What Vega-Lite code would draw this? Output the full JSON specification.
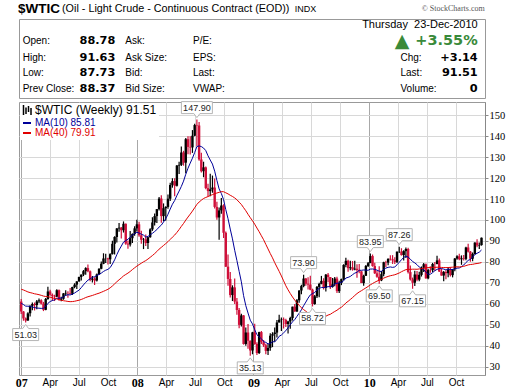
{
"$schema": "https://vega.github.io/schema/vega-lite/v6.json",
"background": "white",
"padding": {"left": 10, "top": 1, "right": 5, "bottom": 0},
"spacing": 0,
"resolve": {"scale": {"color": "independent"}, "legend": {"color": "independent"}},
"config": {
  "view": {"stroke": "#999999", "strokeWidth": 1},
  "font": "Liberation Sans",
  "axisY": {"labelFont": "Liberation Sans Narrow", "labelFontSize": 10.5, "labelColor": "black", "tickSize": 3, "tickColor": "#888888", "domainColor": "#888888", "gridColor": "#d8d8d8", "labelPadding": 1},
  "axisX": {"labelColor": "black"}
},
"datasets": {
  "header": [
    {"text":"$WTIC","col":0,"row":-1,"kind":"symbol"},
    {"text":"(Oil - Light Crude - Continuous Contract (EOD))","col":2,"row":-1,"kind":"name"},
    {"text":"INDX","col":6,"row":-1,"kind":"exchange"},
    {"text":"© StockCharts.com","col":10,"row":-1,"kind":"credit"},
    {"text":"Thursday\u00a0 23-Dec-2010","col":9,"row":0,"kind":"date"},
    {"text":"Open:","col":1,"row":1,"kind":"label"},
    {"text":"88.78","col":3,"row":1,"kind":"value"},
    {"text":"Ask:","col":4,"row":1,"kind":"label"},
    {"text":"P/E:","col":5,"row":1,"kind":"label"},
    {"text":"▲","col":7,"row":1,"kind":"arrow"},
    {"text":"+3.55%","col":9,"row":1,"kind":"change"},
    {"text":"High:","col":1,"row":2,"kind":"label"},
    {"text":"91.63","col":3,"row":2,"kind":"value"},
    {"text":"Ask Size:","col":4,"row":2,"kind":"label"},
    {"text":"EPS:","col":5,"row":2,"kind":"label"},
    {"text":"Chg:","col":8,"row":2,"kind":"label"},
    {"text":"+3.14","col":9,"row":2,"kind":"value"},
    {"text":"Low:","col":1,"row":3,"kind":"label"},
    {"text":"87.73","col":3,"row":3,"kind":"value"},
    {"text":"Bid:","col":4,"row":3,"kind":"label"},
    {"text":"Last:","col":5,"row":3,"kind":"label"},
    {"text":"Last:","col":8,"row":3,"kind":"label"},
    {"text":"91.51","col":9,"row":3,"kind":"value"},
    {"text":"Prev Close:","col":1,"row":4,"kind":"label"},
    {"text":"88.37","col":3,"row":4,"kind":"value"},
    {"text":"Bid Size:","col":4,"row":4,"kind":"label"},
    {"text":"VWAP:","col":5,"row":4,"kind":"label"},
    {"text":"Volume:","col":8,"row":4,"kind":"label"},
    {"text":"0","col":9,"row":4,"kind":"value"}
  ],
  "swings": [
    {"date":"2007-01-15","price":51.03,"side":"low"},
    {"date":"2008-07-07","price":147.90,"side":"high"},
    {"date":"2008-12-22","price":35.13,"side":"low"},
    {"date":"2009-06-08","price":73.90,"side":"high"},
    {"date":"2009-07-06","price":58.72,"side":"low"},
    {"date":"2010-01-04","price":83.95,"side":"high"},
    {"date":"2010-02-01","price":69.50,"side":"low"},
    {"date":"2010-04-05","price":87.26,"side":"high"},
    {"date":"2010-05-17","price":67.15,"side":"low"}
  ],
  "prices": [
    {"date":"2006-03-27","close":66.63},
    {"date":"2006-04-03","close":67.39},
    {"date":"2006-04-10","close":69.32},
    {"date":"2006-04-17","close":75.17},
    {"date":"2006-04-24","close":71.88},
    {"date":"2006-05-01","close":70.19},
    {"date":"2006-05-08","close":72.04},
    {"date":"2006-05-15","close":68.53},
    {"date":"2006-05-22","close":71.37},
    {"date":"2006-05-29","close":72.33},
    {"date":"2006-06-05","close":71.14},
    {"date":"2006-06-12","close":69.89},
    {"date":"2006-06-19","close":70.87},
    {"date":"2006-06-26","close":73.93},
    {"date":"2006-07-03","close":74.09},
    {"date":"2006-07-10","close":77.03},
    {"date":"2006-07-17","close":74.43},
    {"date":"2006-07-24","close":74.54},
    {"date":"2006-07-31","close":74.76},
    {"date":"2006-08-07","close":74.35},
    {"date":"2006-08-14","close":71.14},
    {"date":"2006-08-21","close":72.51},
    {"date":"2006-08-28","close":69.20},
    {"date":"2006-09-04","close":66.25},
    {"date":"2006-09-11","close":63.34},
    {"date":"2006-09-18","close":60.55},
    {"date":"2006-09-25","close":62.91},
    {"date":"2006-10-02","close":59.76},
    {"date":"2006-10-09","close":58.57},
    {"date":"2006-10-16","close":56.82},
    {"date":"2006-10-23","close":60.75},
    {"date":"2006-10-30","close":59.14},
    {"date":"2006-11-06","close":59.58},
    {"date":"2006-11-13","close":55.81},
    {"date":"2006-11-20","close":59.24},
    {"date":"2006-11-27","close":63.43},
    {"date":"2006-12-04","close":62.03},
    {"date":"2006-12-11","close":63.43},
    {"date":"2006-12-18","close":62.41},
    {"date":"2006-12-25","close":61.05},
    {"date":"2007-01-01","open":61.05,"high":62.25,"low":55.11,"close":56.31},
    {"date":"2007-01-08","open":56.31,"high":56.50,"low":51.90,"close":52.99},
    {"date":"2007-01-15","open":52.99,"high":53.50,"low":51.03,"close":52.00},
    {"date":"2007-01-22","open":52.00,"high":55.90,"low":51.90,"close":55.42},
    {"date":"2007-01-29","open":55.42,"high":59.20,"low":53.90,"close":59.02},
    {"date":"2007-02-05","open":59.02,"high":60.60,"low":56.90,"close":59.89},
    {"date":"2007-02-12","open":59.89,"high":60.60,"low":56.80,"close":59.39},
    {"date":"2007-02-19","open":59.39,"high":61.80,"low":57.40,"close":61.14},
    {"date":"2007-02-26","open":61.14,"high":62.50,"low":60.20,"close":61.64},
    {"date":"2007-03-05","open":61.64,"high":62.20,"low":59.60,"close":60.05},
    {"date":"2007-03-12","open":60.05,"high":60.90,"low":56.50,"close":57.11},
    {"date":"2007-03-19","open":57.11,"high":62.70,"low":56.90,"close":62.28},
    {"date":"2007-03-26","open":62.28,"high":68.10,"low":61.90,"close":65.87},
    {"date":"2007-04-02","open":65.87,"high":66.70,"low":63.80,"close":64.28},
    {"date":"2007-04-09","open":64.28,"high":64.90,"low":61.40,"close":63.63},
    {"date":"2007-04-16","open":63.63,"high":64.30,"low":61.30,"close":63.38},
    {"date":"2007-04-23","open":63.38,"high":66.90,"low":63.10,"close":66.46},
    {"date":"2007-04-30","open":66.46,"high":66.80,"low":61.40,"close":61.93},
    {"date":"2007-05-07","open":61.93,"high":63.40,"low":61.20,"close":62.37},
    {"date":"2007-05-14","open":62.37,"high":65.10,"low":61.90,"close":64.94},
    {"date":"2007-05-21","open":64.94,"high":66.40,"low":63.80,"close":65.20},
    {"date":"2007-05-28","open":65.20,"high":66.00,"low":62.90,"close":65.08},
    {"date":"2007-06-04","open":65.08,"high":67.50,"low":64.40,"close":64.76},
    {"date":"2007-06-11","open":64.76,"high":68.10,"low":64.20,"close":68.00},
    {"date":"2007-06-18","open":68.00,"high":69.80,"low":67.40,"close":69.14},
    {"date":"2007-06-25","open":69.14,"high":70.70,"low":67.10,"close":70.68},
    {"date":"2007-07-02","open":70.68,"high":72.90,"low":70.50,"close":72.81},
    {"date":"2007-07-09","open":72.81,"high":74.00,"low":71.10,"close":73.93},
    {"date":"2007-07-16","open":73.93,"high":76.10,"low":73.20,"close":75.57},
    {"date":"2007-07-23","open":75.57,"high":77.40,"low":73.80,"close":77.02},
    {"date":"2007-07-30","open":77.02,"high":78.80,"low":75.10,"close":75.48},
    {"date":"2007-08-06","open":75.48,"high":75.90,"low":70.70,"close":71.47},
    {"date":"2007-08-13","open":71.47,"high":73.30,"low":70.10,"close":71.98},
    {"date":"2007-08-20","open":71.98,"high":72.60,"low":69.00,"close":71.09},
    {"date":"2007-08-27","open":71.09,"high":74.50,"low":70.60,"close":74.04},
    {"date":"2007-09-03","open":74.04,"high":77.00,"low":73.80,"close":76.70},
    {"date":"2007-09-10","open":76.70,"high":80.20,"low":76.50,"close":79.10},
    {"date":"2007-09-17","open":79.10,"high":84.10,"low":78.90,"close":81.62},
    {"date":"2007-09-24","open":81.62,"high":83.90,"low":79.40,"close":81.66},
    {"date":"2007-10-01","open":81.66,"high":82.00,"low":78.80,"close":81.22},
    {"date":"2007-10-08","open":81.22,"high":84.10,"low":79.00,"close":83.69},
    {"date":"2007-10-15","open":83.69,"high":90.10,"low":83.50,"close":88.60},
    {"date":"2007-10-22","open":88.60,"high":92.20,"low":83.50,"close":91.86},
    {"date":"2007-10-29","open":91.86,"high":96.20,"low":89.30,"close":95.93},
    {"date":"2007-11-05","open":95.93,"high":98.60,"low":94.40,"close":96.32},
    {"date":"2007-11-12","open":96.32,"high":96.60,"low":91.20,"close":95.10},
    {"date":"2007-11-19","open":95.10,"high":99.30,"low":94.00,"close":98.18},
    {"date":"2007-11-26","open":98.18,"high":98.30,"low":88.20,"close":88.71},
    {"date":"2007-12-03","open":88.71,"high":90.20,"low":86.20,"close":88.28},
    {"date":"2007-12-10","open":88.28,"high":94.70,"low":87.30,"close":91.27},
    {"date":"2007-12-17","open":91.27,"high":93.60,"low":89.00,"close":93.31},
    {"date":"2007-12-24","open":93.31,"high":97.00,"low":92.50,"close":96.00},
    {"date":"2007-12-31","open":96.00,"high":100.09,"low":94.50,"close":97.91},
    {"date":"2008-01-07","open":97.91,"high":99.20,"low":92.00,"close":92.69},
    {"date":"2008-01-14","open":92.69,"high":94.80,"low":88.60,"close":90.57},
    {"date":"2008-01-21","open":90.57,"high":91.40,"low":86.10,"close":90.71},
    {"date":"2008-01-28","open":90.71,"high":93.00,"low":87.60,"close":88.96},
    {"date":"2008-02-04","open":88.96,"high":91.90,"low":86.10,"close":91.77},
    {"date":"2008-02-11","open":91.77,"high":96.00,"low":91.50,"close":95.50},
    {"date":"2008-02-18","open":95.50,"high":101.30,"low":94.80,"close":98.81},
    {"date":"2008-02-25","open":98.81,"high":103.10,"low":97.30,"close":101.84},
    {"date":"2008-03-03","open":101.84,"high":105.20,"low":98.50,"close":105.15},
    {"date":"2008-03-10","open":105.15,"high":111.00,"low":104.50,"close":110.21},
    {"date":"2008-03-17","open":110.21,"high":111.80,"low":98.70,"close":101.84},
    {"date":"2008-03-24","open":101.84,"high":107.90,"low":99.40,"close":105.62},
    {"date":"2008-03-31","open":105.62,"high":106.50,"low":99.60,"close":106.23},
    {"date":"2008-04-07","open":106.23,"high":112.20,"low":105.40,"close":110.14},
    {"date":"2008-04-14","open":110.14,"high":117.80,"low":109.10,"close":116.69},
    {"date":"2008-04-21","open":116.69,"high":119.90,"low":115.40,"close":118.52},
    {"date":"2008-04-28","open":118.52,"high":119.90,"low":111.30,"close":116.32},
    {"date":"2008-05-05","open":116.32,"high":126.20,"low":116.00,"close":125.96},
    {"date":"2008-05-12","open":125.96,"high":127.80,"low":121.90,"close":126.29},
    {"date":"2008-05-19","open":126.29,"high":135.10,"low":125.80,"close":132.19},
    {"date":"2008-05-26","open":132.19,"high":133.00,"low":125.90,"close":127.35},
    {"date":"2008-06-02","open":127.35,"high":139.10,"low":122.30,"close":138.54},
    {"date":"2008-06-09","open":138.54,"high":139.90,"low":131.40,"close":134.86},
    {"date":"2008-06-16","open":134.86,"high":139.90,"low":131.30,"close":134.62},
    {"date":"2008-06-23","open":134.62,"high":142.90,"low":132.00,"close":140.21},
    {"date":"2008-06-30","open":140.21,"high":145.90,"low":139.90,"close":145.29},
    {"date":"2008-07-07","open":145.29,"high":147.90,"low":135.20,"close":145.08},
    {"date":"2008-07-14","open":145.08,"high":146.70,"low":128.20,"close":128.88},
    {"date":"2008-07-21","open":128.88,"high":132.10,"low":122.70,"close":123.26},
    {"date":"2008-07-28","open":123.26,"high":127.80,"low":120.40,"close":125.10},
    {"date":"2008-08-04","open":125.10,"high":125.50,"low":114.60,"close":115.20},
    {"date":"2008-08-11","open":115.20,"high":117.30,"low":111.30,"close":113.77},
    {"date":"2008-08-18","open":113.77,"high":122.00,"low":111.30,"close":114.59},
    {"date":"2008-08-25","open":114.59,"high":121.20,"low":113.00,"close":115.46},
    {"date":"2008-09-01","open":115.46,"high":119.80,"low":105.50,"close":106.23},
    {"date":"2008-09-08","open":106.23,"high":108.70,"low":100.10,"close":101.18},
    {"date":"2008-09-15","open":101.18,"high":106.00,"low":90.50,"close":104.55},
    {"date":"2008-09-22","open":104.55,"high":110.50,"low":103.00,"close":106.89},
    {"date":"2008-09-29","open":106.89,"high":107.50,"low":91.40,"close":93.88},
    {"date":"2008-10-06","open":93.88,"high":94.50,"low":77.60,"close":77.70},
    {"date":"2008-10-13","open":77.70,"high":83.50,"low":68.60,"close":71.85},
    {"date":"2008-10-20","open":71.85,"high":75.20,"low":63.00,"close":64.15},
    {"date":"2008-10-27","open":64.15,"high":68.80,"low":61.30,"close":67.81},
    {"date":"2008-11-03","open":67.81,"high":72.00,"low":59.90,"close":61.04},
    {"date":"2008-11-10","open":61.04,"high":62.70,"low":54.70,"close":57.04},
    {"date":"2008-11-17","open":57.04,"high":58.00,"low":48.30,"close":49.93},
    {"date":"2008-11-24","open":49.93,"high":55.20,"low":49.20,"close":54.43},
    {"date":"2008-12-01","open":54.43,"high":54.60,"low":40.50,"close":40.81},
    {"date":"2008-12-08","open":40.81,"high":48.70,"low":40.00,"close":46.28},
    {"date":"2008-12-15","open":46.28,"high":50.40,"low":38.50,"close":42.36},
    {"date":"2008-12-22","open":42.36,"high":42.50,"low":35.13,"close":37.71},
    {"date":"2008-12-29","open":37.71,"high":46.60,"low":35.90,"close":46.34},
    {"date":"2009-01-05","open":46.34,"high":50.50,"low":40.40,"close":40.83},
    {"date":"2009-01-12","open":40.83,"high":41.60,"low":35.50,"close":36.51},
    {"date":"2009-01-19","open":36.51,"high":46.60,"low":36.00,"close":46.47},
    {"date":"2009-01-26","open":46.47,"high":47.00,"low":40.80,"close":41.68},
    {"date":"2009-02-02","open":41.68,"high":42.70,"low":39.40,"close":40.17},
    {"date":"2009-02-09","open":40.17,"high":40.90,"low":35.90,"close":37.51},
    {"date":"2009-02-16","open":37.51,"high":40.90,"low":35.60,"close":38.94},
    {"date":"2009-02-23","open":38.94,"high":45.90,"low":37.60,"close":44.76},
    {"date":"2009-03-02","open":44.76,"high":46.40,"low":39.30,"close":45.52},
    {"date":"2009-03-09","open":45.52,"high":48.70,"low":41.90,"close":46.25},
    {"date":"2009-03-16","open":46.25,"high":52.30,"low":43.90,"close":51.06},
    {"date":"2009-03-23","open":51.06,"high":54.70,"low":51.00,"close":52.38},
    {"date":"2009-03-30","open":52.38,"high":53.50,"low":47.00,"close":52.51},
    {"date":"2009-04-06","open":52.51,"high":53.50,"low":48.20,"close":52.24},
    {"date":"2009-04-13","open":52.24,"high":52.90,"low":48.90,"close":50.33},
    {"date":"2009-04-20","open":50.33,"high":51.90,"low":45.80,"close":51.55},
    {"date":"2009-04-27","open":51.55,"high":53.80,"low":48.10,"close":53.20},
    {"date":"2009-05-04","open":53.20,"high":58.60,"low":52.00,"close":58.63},
    {"date":"2009-05-11","open":58.63,"high":59.90,"low":56.20,"close":56.34},
    {"date":"2009-05-18","open":56.34,"high":62.30,"low":56.10,"close":61.67},
    {"date":"2009-05-25","open":61.67,"high":66.40,"low":60.50,"close":66.31},
    {"date":"2009-06-01","open":66.31,"high":69.10,"low":64.50,"close":68.44},
    {"date":"2009-06-08","open":68.44,"high":73.90,"low":67.90,"close":72.04},
    {"date":"2009-06-15","open":72.04,"high":72.30,"low":68.60,"close":69.55},
    {"date":"2009-06-22","open":69.55,"high":72.70,"low":66.80,"close":69.16},
    {"date":"2009-06-29","open":69.16,"high":73.40,"low":66.40,"close":66.73},
    {"date":"2009-07-06","open":66.73,"high":67.20,"low":58.72,"close":59.89},
    {"date":"2009-07-13","open":59.89,"high":64.20,"low":59.50,"close":63.56},
    {"date":"2009-07-20","open":63.56,"high":68.50,"low":62.70,"close":68.05},
    {"date":"2009-07-27","open":68.05,"high":70.00,"low":63.10,"close":69.45},
    {"date":"2009-08-03","open":69.45,"high":73.30,"low":69.30,"close":70.93},
    {"date":"2009-08-10","open":70.93,"high":72.20,"low":66.80,"close":67.51},
    {"date":"2009-08-17","open":67.51,"high":74.20,"low":65.80,"close":73.89},
    {"date":"2009-08-24","open":73.89,"high":74.70,"low":70.30,"close":72.74},
    {"date":"2009-08-31","open":72.74,"high":72.80,"low":67.00,"close":68.02},
    {"date":"2009-09-07","open":68.02,"high":72.30,"low":67.70,"close":69.29},
    {"date":"2009-09-14","open":69.29,"high":72.80,"low":68.30,"close":72.04},
    {"date":"2009-09-21","open":72.04,"high":72.90,"low":65.10,"close":66.02},
    {"date":"2009-09-28","open":66.02,"high":71.00,"low":65.10,"close":69.95},
    {"date":"2009-10-05","open":69.95,"high":72.00,"low":68.90,"close":71.77},
    {"date":"2009-10-12","open":71.77,"high":78.90,"low":71.20,"close":78.53},
    {"date":"2009-10-19","open":78.53,"high":82.00,"low":77.40,"close":80.50},
    {"date":"2009-10-26","open":80.50,"high":81.00,"low":75.30,"close":77.00},
    {"date":"2009-11-02","open":77.00,"high":80.50,"low":76.00,"close":77.43},
    {"date":"2009-11-09","open":77.43,"high":80.40,"low":75.80,"close":76.35},
    {"date":"2009-11-16","open":76.35,"high":80.50,"low":76.00,"close":76.72},
    {"date":"2009-11-23","open":76.72,"high":78.90,"low":72.40,"close":76.05},
    {"date":"2009-11-30","open":76.05,"high":79.00,"low":74.60,"close":75.47},
    {"date":"2009-12-07","open":75.47,"high":75.60,"low":69.90,"close":69.87},
    {"date":"2009-12-14","open":69.87,"high":73.90,"low":68.60,"close":73.36},
    {"date":"2009-12-21","open":73.36,"high":78.50,"low":73.20,"close":78.05},
    {"date":"2009-12-28","open":78.05,"high":79.90,"low":77.60,"close":79.36},
    {"date":"2010-01-04","open":79.36,"high":83.95,"low":79.40,"close":82.75},
    {"date":"2010-01-11","open":82.75,"high":83.50,"low":77.70,"close":78.00},
    {"date":"2010-01-18","open":78.00,"high":79.60,"low":74.20,"close":74.54},
    {"date":"2010-01-25","open":74.54,"high":75.80,"low":72.40,"close":72.89},
    {"date":"2010-02-01","open":72.89,"high":77.90,"low":69.50,"close":71.19},
    {"date":"2010-02-08","open":71.19,"high":75.70,"low":70.80,"close":74.13},
    {"date":"2010-02-15","open":74.13,"high":80.10,"low":73.10,"close":79.81},
    {"date":"2010-02-22","open":79.81,"high":80.50,"low":77.50,"close":79.66},
    {"date":"2010-03-01","open":79.66,"high":81.60,"low":78.40,"close":81.50},
    {"date":"2010-03-08","open":81.50,"high":83.20,"low":80.60,"close":81.24},
    {"date":"2010-03-15","open":81.24,"high":83.20,"low":79.00,"close":80.68},
    {"date":"2010-03-22","open":80.68,"high":82.20,"low":79.00,"close":80.00},
    {"date":"2010-03-29","open":80.00,"high":85.00,"low":79.40,"close":84.87},
    {"date":"2010-04-05","open":84.87,"high":87.26,"low":84.20,"close":84.92},
    {"date":"2010-04-12","open":84.92,"high":86.50,"low":83.00,"close":83.24},
    {"date":"2010-04-19","open":83.24,"high":85.60,"low":80.70,"close":85.12},
    {"date":"2010-04-26","open":85.12,"high":86.90,"low":81.80,"close":86.15},
    {"date":"2010-05-03","open":86.15,"high":86.70,"low":74.50,"close":75.11},
    {"date":"2010-05-10","open":75.11,"high":78.30,"low":71.10,"close":71.61},
    {"date":"2010-05-17","open":71.61,"high":72.50,"low":67.15,"close":70.04},
    {"date":"2010-05-24","open":70.04,"high":75.70,"low":68.50,"close":73.97},
    {"date":"2010-05-31","open":73.97,"high":75.60,"low":70.80,"close":71.51},
    {"date":"2010-06-07","open":71.51,"high":75.30,"low":70.80,"close":73.78},
    {"date":"2010-06-14","open":73.78,"high":77.80,"low":73.00,"close":77.18},
    {"date":"2010-06-21","open":77.18,"high":79.40,"low":75.20,"close":78.86},
    {"date":"2010-06-28","open":78.86,"high":79.20,"low":71.90,"close":72.14},
    {"date":"2010-07-05","open":72.14,"high":76.70,"low":71.70,"close":76.09},
    {"date":"2010-07-12","open":76.09,"high":77.80,"low":74.80,"close":76.01},
    {"date":"2010-07-19","open":76.01,"high":79.50,"low":75.10,"close":78.98},
    {"date":"2010-07-26","open":78.98,"high":79.90,"low":75.70,"close":78.95},
    {"date":"2010-08-02","open":78.95,"high":82.90,"low":78.90,"close":80.70},
    {"date":"2010-08-09","open":80.70,"high":81.60,"low":75.20,"close":75.39},
    {"date":"2010-08-16","open":75.39,"high":76.80,"low":73.40,"close":73.46},
    {"date":"2010-08-23","open":73.46,"high":75.60,"low":70.80,"close":75.17},
    {"date":"2010-08-30","open":75.17,"high":76.00,"low":71.70,"close":74.60},
    {"date":"2010-09-06","open":74.60,"high":77.50,"low":72.70,"close":76.45},
    {"date":"2010-09-13","open":76.45,"high":77.40,"low":73.00,"close":73.66},
    {"date":"2010-09-20","open":73.66,"high":76.50,"low":72.60,"close":76.49},
    {"date":"2010-09-27","open":76.49,"high":81.80,"low":75.50,"close":81.58},
    {"date":"2010-10-04","open":81.58,"high":83.20,"low":81.00,"close":82.66},
    {"date":"2010-10-11","open":82.66,"high":83.90,"low":80.80,"close":81.25},
    {"date":"2010-10-18","open":81.25,"high":83.10,"low":78.60,"close":81.69},
    {"date":"2010-10-25","open":81.69,"high":83.30,"low":80.70,"close":81.43},
    {"date":"2010-11-01","open":81.43,"high":87.20,"low":80.80,"close":86.85},
    {"date":"2010-11-08","open":86.85,"high":88.60,"low":84.50,"close":84.88},
    {"date":"2010-11-15","open":84.88,"high":85.20,"low":80.00,"close":81.51},
    {"date":"2010-11-22","open":81.51,"high":84.50,"low":80.30,"close":83.76},
    {"date":"2010-11-29","open":83.76,"high":89.40,"low":83.50,"close":89.19},
    {"date":"2010-12-06","open":89.19,"high":90.80,"low":87.00,"close":87.79},
    {"date":"2010-12-13","open":87.79,"high":89.20,"low":86.10,"close":88.02},
    {"date":"2010-12-20","open":88.02,"high":91.63,"low":87.73,"close":91.51}
  ]
},
"vconcat": [
  {
    "width": 466, "height": 79,
    "data": {"name": "header"},
    "encoding": {
      "x": {"field": "col", "type": "quantitative", "axis": null, "scale": {"domain": [0,1,2,3,4,5,6,7,8,9,10], "range": [-1,3.7,43,96.3,106.3,174,275.7,375.7,381.5,458.7,465.7], "zero": false, "nice": false}},
      "y": {"field": "row", "type": "quantitative", "axis": null, "scale": {"domain": [-1,0,1,2,3,4], "range": [-10.3,5.8,21.8,38.7,54.2,69.9], "zero": false, "nice": false}},
      "text": {"field": "text"}
    },
    "layer": [
      {"transform": [{"filter": "datum.kind == 'symbol'"}], "mark": {"type": "text", "align": "left", "baseline": "middle", "font": "Liberation Sans", "fontSize": 13.5, "fontWeight": "bold", "color": "black"}},
      {"transform": [{"filter": "datum.kind == 'name'"}], "mark": {"type": "text", "align": "left", "baseline": "middle", "font": "Liberation Sans", "fontSize": 10.8, "color": "black"}},
      {"transform": [{"filter": "datum.kind == 'exchange'"}], "mark": {"type": "text", "align": "left", "baseline": "middle", "font": "Liberation Sans", "fontSize": 9, "color": "black"}},
      {"transform": [{"filter": "datum.kind == 'credit'"}], "mark": {"type": "text", "align": "right", "baseline": "middle", "font": "Liberation Sans Narrow", "fontSize": 8, "color": "#555555"}},
      {"transform": [{"filter": "datum.kind == 'date'"}], "mark": {"type": "text", "align": "right", "baseline": "middle", "font": "Liberation Sans", "fontSize": 11, "color": "black"}},
      {"transform": [{"filter": "datum.kind == 'label'"}], "mark": {"type": "text", "align": "left", "baseline": "middle", "font": "Liberation Sans", "fontSize": 10, "color": "black"}},
      {"transform": [{"filter": "datum.kind == 'value'"}], "mark": {"type": "text", "align": "right", "baseline": "middle", "font": "DejaVu Sans", "fontSize": 11.3, "fontWeight": "bold", "color": "black"}},
      {"transform": [{"filter": "datum.kind == 'change'"}], "mark": {"type": "text", "align": "right", "baseline": "middle", "font": "DejaVu Sans", "fontSize": 14.5, "fontWeight": "bold", "color": "#3a8a3a"}},
      {"transform": [{"filter": "datum.kind == 'arrow'"}], "mark": {"type": "text", "align": "left", "baseline": "middle", "font": "DejaVu Sans", "fontSize": 19, "color": "#3a8a3a"}}
    ]
  },
  {
    "width": 466, "height": 273,
    "encoding": {
      "x": {"field": "date", "type": "temporal",
        "scale": {"type": "utc", "nice": false, "padding": 0, "domain": [{"year": 2006, "month": 12, "date": 25, "utc": true}, {"year": 2010, "month": 12, "date": 31, "utc": true}]},
        "axis": {"title": null, "tickCount": {"interval": "month", "step": 3}, "ticks": false, "domain": false, "labelPadding": 2, "labelFlush": false, "labelOverlap": false, "labelBound": false,
          "labelExpr": "utcmonth(datum.value) == 0 ? utcFormat(datum.value, '%y') : utcFormat(datum.value, '%b')",
          "labelFontWeight": {"condition": {"test": "utcmonth(datum.value) == 0", "value": "bold"}, "value": "normal"},
          "labelFontSize": {"condition": {"test": "utcmonth(datum.value) == 0", "value": 12}, "value": 10},
          "labelFont": {"condition": {"test": "utcmonth(datum.value) == 0", "value": "Liberation Sans Narrow"}, "value": "Liberation Sans"},
          "gridColor": {"condition": {"test": "utcmonth(datum.value) == 0", "value": "#a8a8a8"}, "value": "#d8d8d8"}}
      }
    },
    "layer": [
      {
        "data": {"name": "prices"},
        "transform": [
          {"window": [{"op": "lag", "field": "close", "as": "prev"}], "sort": [{"field": "date", "order": "ascending"}]},
          {"filter": {"field": "open", "valid": true}}
        ],
        "encoding": {
          "color": {"condition": {"test": "datum.close >= datum.prev", "value": "black"}, "value": "#d0103a"}
        },
        "layer": [
          {"mark": {"type": "rule", "strokeWidth": 1.2},
           "encoding": {"y": {"field": "low", "type": "quantitative", "scale": {"domain": [26, 156.3], "zero": false, "nice": false}, "axis": {"orient": "right", "title": null, "values": [30,40,50,60,70,80,90,100,110,120,130,140,150]}}, "y2": {"field": "high"}}},
          {"mark": {"type": "bar", "size": 2.4},
           "encoding": {"y": {"field": "open", "type": "quantitative", "scale": {"domain": [26, 156.3], "zero": false, "nice": false}, "axis": {"orient": "right", "title": null, "values": [30,40,50,60,70,80,90,100,110,120,130,140,150]}}, "y2": {"field": "close"}}}
        ]
      },
      {
        "data": {"name": "prices"},
        "transform": [
          {"window": [{"op": "mean", "field": "close", "as": "ma10"}], "frame": [-9, 0], "sort": [{"field": "date", "order": "ascending"}]},
          {"window": [{"op": "mean", "field": "close", "as": "ma40"}], "frame": [-39, 0], "sort": [{"field": "date", "order": "ascending"}]},
          {"filter": {"field": "open", "valid": true}},
          {"fold": ["ma10", "ma40"], "as": ["series", "ma"]}
        ],
        "mark": {"type": "line", "strokeWidth": 1},
        "encoding": {
          "y": {"field": "ma", "type": "quantitative", "scale": {"domain": [26, 156.3], "zero": false, "nice": false}, "axis": {"orient": "right", "title": null, "values": [30,40,50,60,70,80,90,100,110,120,130,140,150]}},
          "color": {"field": "series", "type": "nominal",
            "scale": {"domain": ["wtic", "ma10", "ma40"], "range": ["black", "#000099", "#e00000"]},
            "legend": {"title": null, "orient": "top-left", "offset": 1, "padding": 2, "fillColor": "white",
              "symbolType": "stroke", "symbolSize": 64, "symbolStrokeWidth": 2,
              "labelFont": "Liberation Sans", "labelFontSize": 10, "labelLimit": 300, "labelOffset": 3, "rowPadding": 0,
              "labelExpr": "datum.value == 'wtic' ? '$WTIC (Weekly) 91.51' : datum.value == 'ma10' ? 'MA(10) 85.81' : 'MA(40) 79.91'",
              "encode": {
                "labels": {"update": {
                  "fill": {"signal": "datum.value == 'ma10' ? '#000099' : datum.value == 'ma40' ? '#e00000' : 'black'"},
                  "fontSize": {"signal": "datum.value == 'wtic' ? 12 : 10"}}},
                "symbols": {"update": {
                  "shape": {"signal": "datum.value == 'wtic' ? 'M-0.7,-1V1M-0.2,-0.5V0.8M0.3,-0.8V0.4M0.8,-0.4V1' : 'stroke'"},
                  "size": {"signal": "datum.value == 'wtic' ? 100 : 64"},
                  "strokeWidth": {"signal": "datum.value == 'wtic' ? 1.5 : 2"}}}
              }
            }
          }
        }
      },
      {
        "data": {"name": "swings"},
        "encoding": {
          "y": {"field": "price", "type": "quantitative", "scale": {"domain": [26, 156.3], "zero": false, "nice": false}, "axis": {"orient": "right", "title": null, "values": [30,40,50,60,70,80,90,100,110,120,130,140,150]}}
        },
        "layer": [
          {"transform": [{"filter": "datum.side == 'high'"}],
           "mark": {"type": "point", "filled": true, "fill": "white", "stroke": "#b5b5b5", "strokeWidth": 1, "opacity": 1},
           "encoding": {
             "shape": {"condition": {"test": "datum.price >= 100", "value": "M-1,-1.161H1V-0.387H0.194L0,-0.129L-0.194,-0.387H-1Z"}, "value": "M-1,-1.385H1V-0.462H0.23L0,-0.154L-0.23,-0.462H-1Z"},
             "size": {"condition": {"test": "datum.price >= 100", "value": 961}, "value": 676}}},
          {"transform": [{"filter": "datum.side == 'low'"}],
           "mark": {"type": "point", "filled": true, "fill": "white", "stroke": "#b5b5b5", "strokeWidth": 1, "opacity": 1, "shape": "M-1,1.385H1V0.462H0.23L0,0.154L-0.23,0.462H-1Z", "size": 676}},
          {"transform": [{"filter": "datum.side == 'high'"}],
           "mark": {"type": "text", "dy": -12, "baseline": "middle", "font": "Liberation Sans", "fontSize": 9, "color": "#222222"},
           "encoding": {"text": {"field": "price", "type": "quantitative", "format": ".2f"}}},
          {"transform": [{"filter": "datum.side == 'low'"}],
           "mark": {"type": "text", "dy": 12, "baseline": "middle", "font": "Liberation Sans", "fontSize": 9, "color": "#222222"},
           "encoding": {"text": {"field": "price", "type": "quantitative", "format": ".2f"}}}
        ]
      }
    ]
  }
]
}
